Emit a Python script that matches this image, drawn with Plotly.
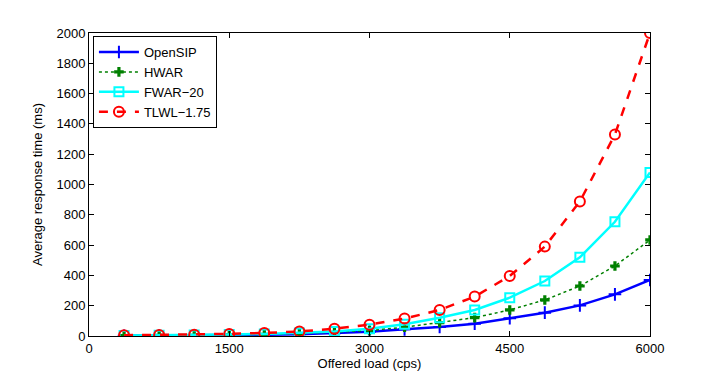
import plotly.graph_objects as go

load = [375, 750, 1125, 1500, 1875, 2250, 2625, 3000, 3375, 3750, 4125, 4500, 4875, 5250, 5625, 6000]
opensip = [2, 3, 4, 6, 8, 12, 18, 28, 44, 59, 81, 117, 154, 202, 275, 370]
hwar = [3, 4, 5, 8, 11, 16, 24, 36, 58, 88, 121, 172, 238, 330, 462, 634]
fwar20 = [4, 5, 7, 10, 14, 20, 30, 48, 77, 121, 172, 253, 363, 519, 754, 1080]
tlwl175 = [5, 7, 9, 14, 20, 30, 48, 75, 115, 172, 260, 396, 590, 888, 1330, 2000]

x_ticks = [0, 1500, 3000, 4500, 6000]
y_ticks = list(range(0, 2001, 200))

FONT = "Liberation Sans, Arial, sans-serif"

fig = go.Figure()
fig.add_trace(go.Scatter(x=load, y=opensip, name="OpenSIP", mode="lines+markers",
                         line=dict(color="#0000ff", width=2.5),
                         marker=dict(symbol="cross-thin", size=9, line=dict(color="#0000ff", width=2))))
fig.add_trace(go.Scatter(x=load, y=hwar, name="HWAR", mode="lines+markers",
                         line=dict(color="#008000", width=1.5, dash="dot"),
                         marker=dict(symbol="cross", size=8, color="#008000")))
fig.add_trace(go.Scatter(x=load, y=fwar20, name="FWAR\u221220", mode="lines+markers",
                         line=dict(color="#00ffff", width=2.5),
                         marker=dict(symbol="square-open", size=9, color="#00ffff", line=dict(width=2))))
fig.add_trace(go.Scatter(x=load, y=tlwl175, name="TLWL\u22121.75", mode="lines+markers",
                         line=dict(color="#ff0000", width=2.5, dash="dash"),
                         marker=dict(symbol="circle-open", size=10, color="#ff0000", line=dict(width=2))))

axis_common = dict(showline=True, linecolor="black", linewidth=1, mirror="ticks",
                   ticks="inside", ticklen=5, tickcolor="black", showgrid=False, zeroline=False,
                   tickfont=dict(family=FONT, size=13, color="black"))

fig.update_xaxes(range=[0, 6000], tickvals=x_ticks,
                 title=dict(text="Offered load (cps)", font=dict(family=FONT, size=13, color="black"), standoff=2),
                 **axis_common)
fig.update_yaxes(range=[0, 2000], tickvals=y_ticks,
                 title=dict(text="Average response time (ms)", font=dict(family=FONT, size=13, color="black"), standoff=10),
                 **axis_common)

fig.update_layout(
    width=712, height=381,
    margin=dict(l=81, r=70, t=25, b=53),
    paper_bgcolor="white", plot_bgcolor="white",
    font=dict(family=FONT, size=13, color="black"),
    legend=dict(x=0.007, y=0.99, xanchor="left", yanchor="top",
                bordercolor="black", borderwidth=1, bgcolor="white",
                font=dict(family=FONT, size=13), tracegroupgap=0, itemwidth=40),
    showlegend=True,
)

fig.write_html("out.html")
